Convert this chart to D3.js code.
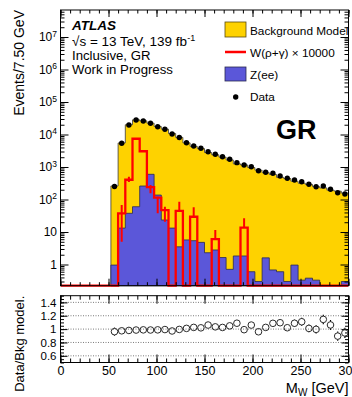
<!DOCTYPE html>
<html>
<head>
<meta charset="utf-8">
<script src="https://cdn.jsdelivr.net/npm/d3@7"></script>
<style>
  body { margin: 0; background: #fff; }
  text { font-family: "Liberation Sans", Arial, Helvetica, sans-serif; }
</style>
</head>
<body>
<div id="chart"></div>
<script>
// bin centres in GeV (bins are 7.5 GeV wide)
var massBins = [56.25, 63.75, 71.25, 78.75, 86.25, 93.75, 101.25, 108.75, 116.25, 123.75,
  131.25, 138.75, 146.25, 153.75, 161.25, 168.75, 176.25, 183.75, 191.25, 198.75,
  206.25, 213.75, 221.25, 228.75, 236.25, 243.75, 251.25, 258.75, 266.25, 273.75,
  281.25, 288.75, 296.25];
var dataCounts = [251, 5360, 19600, 27900, 26000, 22100, 17400, 14500, 10400, 8090,
  5590, 4430, 3760, 2960, 2460, 2070, 1730, 1360, 1150, 1020,
  769, 687, 640, 528, 449, 398, 353, 294, 248, 260,
  206, 162, 148];
var bkgModel = [261, 5500, 20000, 28300, 26300, 22400, 17600, 14600, 10700, 8130,
  5530, 4320, 3690, 2790, 2380, 2020, 1650, 1250, 1160, 962,
  801, 670, 589, 482, 440, 366, 318, 291, 249, 227,
  194, 181, 157];
var zeeBkg = [0.96, 13.2, 37.6, 60, 260, 596, 137, 23.4, 13.2, 3.5,
  5.7, 5.4, 4.8, 2.3, 2.8, 1.64, 0.71, 1.83, 1.83, 0.6,
  0.3, 1.6, 0.68, 0.6, 0.3, 0.96, 0.33, 0.38, 0.33, 0,
  0, 0, 0.3];
// W(rho+gamma) x 10000
var wSignal = [0, 37.6, 405, 7400, 3050, 240, 115, 47, 0, 45,
  0, 29.5, 0, 0, 6, 0, 0, 0, 13.6, 0,
  0, 0, 0, 0, 0, 0, 0, 0, 0, 0,
  0, 0, 0];
var wErrHi = [null, 67.6, 505, null, null, 279, 122, 60, null, 85,
  null, 57.5, null, null, 11.5, null, null, null, 26.3, null];
var wErrLo = [null, 5.0, 345, null, null, 155, 37.6, 20.7, null, 45,
  null, 29.5, null, null, 6, null, null, null, 13.6, null];

var xTicks = [0, 50, 100, 150, 200, 250, 300];
var logTicks = [1, 10, 1e2, 1e3, 1e4, 1e5, 1e6, 1e7];
var ratioTicks = [0.6, 0.8, 1, 1.2, 1.4];

var width = 352, height = 397;
var left = 60.5, right = 348.5, plotTop = 10, mainBottom = 285.7;
var ratioTop = 295.7, ratioBottom = 362.5;
var binHalf = 3.75, yMin = 0.2227, yMax = 6.78e7;
var fontFam = '"Liberation Sans", Arial, sans-serif';

var svg = d3.select('#chart').append('svg')
  .attr('width', width)
  .attr('height', height);

var x = d3.scaleLinear().domain([0, 300]).range([left, right]);
var y = d3.scaleLog().domain([yMin, yMax]).range([mainBottom, plotTop]);
var yr = d3.scaleLinear().domain([0.5, 1.5]).range([ratioBottom, ratioTop]);
var yc = v => y(Math.max(v, yMin));

var minorX = d3.range(0, 301, 10);
var minorLog = [];
logTicks.concat([0.1]).forEach(function(d) {
  for (var k = 2; k < 10; k++) {
    var v = d * k;
    if (v > yMin && v < yMax) minorLog.push(v);
  }
});
var minorRatio = d3.range(0.5, 1.5001, 0.05);

svg.append('clipPath').attr('id', 'mainclip')
  .append('rect').attr('x', left).attr('y', plotTop)
  .attr('width', right - left).attr('height', mainBottom - plotTop + 2);

function stepPoints(vals) {
  var pts = [];
  vals.forEach(function(v, i) {
    pts.push({m: massBins[i] - binHalf, v: v});
    pts.push({m: massBins[i] + binHalf, v: v});
  });
  return pts;
}

var area = d3.area()
  .x(d => x(d.m))
  .y0(mainBottom)
  .y1(d => yc(d.v));

var plot = svg.append('g').attr('clip-path', 'url(#mainclip)');

// stacked backgrounds
plot.append('path')
  .attr('d', area(stepPoints(bkgModel)))
  .attr('fill', '#fed200')
  .attr('stroke', '#3c3c3c')
  .attr('stroke-width', 0.8);

plot.append('path')
  .attr('d', area(stepPoints(zeeBkg)))
  .attr('fill', '#5b57d9')
  .attr('stroke', '#2a2a50')
  .attr('stroke-width', 0.8);

// W signal histogram
var wPts = [{m: 0, v: 0}].concat(stepPoints(wSignal)).concat([{m: 300, v: 0}]);
plot.append('path')
  .attr('d', d3.line().x(d => x(d.m)).y(d => yc(d.v))(wPts))
  .attr('fill', 'none')
  .attr('stroke', '#ff0000')
  .attr('stroke-width', 2.3);

plot.selectAll('.werr')
  .data(wErrHi.map((h, i) => ({i: i, hi: h, lo: wErrLo[i]})).filter(d => d.hi != null))
  .enter().append('line')
  .attr('x1', d => x(massBins[d.i])).attr('x2', d => x(massBins[d.i]))
  .attr('y1', d => yc(d.lo)).attr('y2', d => yc(d.hi))
  .attr('stroke', '#ff0000')
  .attr('stroke-width', 2);

// data
plot.selectAll('.dat')
  .data(dataCounts)
  .enter().append('circle')
  .attr('cx', (d, i) => x(massBins[i]))
  .attr('cy', d => y(d))
  .attr('r', 2.7)
  .attr('fill', '#000');

// ---- axes helpers
function noDomain(g) { g.select('.domain').remove(); }

function tickAxis(makeAxis, scale, tx, ty, major, minor, len) {
  svg.append('g').attr('transform', `translate(${tx},${ty})`)
    .call(makeAxis(scale).tickValues(major).tickSize(-len).tickFormat(''))
    .call(noDomain);
  svg.append('g').attr('transform', `translate(${tx},${ty})`)
    .call(makeAxis(scale).tickValues(minor).tickSize(-len / 2).tickFormat(''))
    .call(noDomain);
}

// main panel ticks
tickAxis(d3.axisTop, x, 0, plotTop, xTicks, minorX, 7);
tickAxis(d3.axisBottom, x, 0, mainBottom, xTicks, minorX, 7);
tickAxis(d3.axisRight, y, right, 0, logTicks, minorLog, 8);

svg.append('g').attr('transform', `translate(${left},0)`)
  .call(d3.axisLeft(y).tickValues(logTicks).tickSize(-8).tickPadding(3.5))
  .call(noDomain)
  .call(g => g.selectAll('text')
    .attr('font-size', 12)
    .attr('fill', '#000')
    .attr('font-family', fontFam)
    .each(function(d) {
      var t = d3.select(this).text('');
      var e = Math.round(Math.log10(d));
      if (e < 2) { t.text(d3.format('d')(d)); }
      else {
        t.append('tspan').text('10');
        t.append('tspan').attr('dy', '-0.55em').attr('font-size', 8.5).text(e);
      }
    }));
svg.append('g').attr('transform', `translate(${left},0)`)
  .call(d3.axisLeft(y).tickValues(minorLog).tickSize(-4).tickFormat(''))
  .call(noDomain);

// ratio panel
svg.append('g').selectAll('line')
  .data(ratioTicks).enter().append('line')
  .attr('x1', left).attr('x2', right)
  .attr('y1', d => yr(d)).attr('y2', d => yr(d))
  .attr('stroke', '#444')
  .attr('stroke-width', 0.7)
  .attr('stroke-dasharray', '1,1.5');

tickAxis(d3.axisTop, x, 0, ratioTop, xTicks, minorX, 8);
tickAxis(d3.axisRight, yr, right, 0, ratioTicks, minorRatio, 7);

svg.append('g').attr('transform', `translate(0,${ratioBottom})`)
  .call(d3.axisBottom(x).tickValues(xTicks).tickSize(-8).tickPadding(4))
  .call(noDomain)
  .call(g => g.selectAll('text').attr('font-size', 12.5)
    .attr('font-family', fontFam).attr('fill', '#000'));
svg.append('g').attr('transform', `translate(0,${ratioBottom})`)
  .call(d3.axisBottom(x).tickValues(minorX).tickSize(-4).tickFormat(''))
  .call(noDomain);

svg.append('g').attr('transform', `translate(${left},0)`)
  .call(d3.axisLeft(yr).tickValues(ratioTicks).tickSize(-7).tickPadding(4).tickFormat(d3.format('~g')))
  .call(noDomain)
  .call(g => g.selectAll('text').attr('font-size', 11.5)
    .attr('font-family', fontFam).attr('fill', '#000'));
svg.append('g').attr('transform', `translate(${left},0)`)
  .call(d3.axisLeft(yr).tickValues(minorRatio).tickSize(-3.5).tickFormat(''))
  .call(noDomain);

// ratio points
var ratioData = dataCounts.map((d, i) => ({
  m: massBins[i], r: d / bkgModel[i], e: Math.sqrt(d) / bkgModel[i]
}));
var rg = svg.append('g');
var mr = 3.3;
ratioData.forEach(function(d) {
  var cx = x(d.m), cy = yr(d.r);
  var yTop = yr(d.r + d.e), yBot = yr(d.r - d.e);
  if (cy - yTop > mr) {
    rg.append('line').attr('x1', cx).attr('x2', cx).attr('y1', yTop).attr('y2', cy - mr)
      .attr('stroke', '#000').attr('stroke-width', 1.2);
    rg.append('line').attr('x1', cx).attr('x2', cx).attr('y1', cy + mr).attr('y2', yBot)
      .attr('stroke', '#000').attr('stroke-width', 1.2);
  }
});
rg.selectAll('circle').data(ratioData).enter().append('circle')
  .attr('cx', d => x(d.m)).attr('cy', d => yr(d.r))
  .attr('r', mr)
  .attr('fill', 'none')
  .attr('stroke', '#2a2a2a')
  .attr('stroke-width', 1);

// frames
[[plotTop, mainBottom], [ratioTop, ratioBottom]].forEach(function(f) {
  svg.append('rect')
    .attr('x', left).attr('y', f[0])
    .attr('width', right - left).attr('height', f[1] - f[0])
    .attr('fill', 'none').attr('stroke', '#000').attr('stroke-width', 1);
});

// axis titles
svg.append('text')
  .attr('transform', 'translate(24,10) rotate(-90)')
  .attr('text-anchor', 'end')
  .attr('font-size', 14)
  .text('Events/7.50 GeV');
svg.append('text')
  .attr('transform', `translate(24,${ratioTop}) rotate(-90)`)
  .attr('text-anchor', 'end')
  .attr('font-size', 13)
  .text('Data/Bkg model.');
var xt = svg.append('text')
  .attr('x', right).attr('y', 392.5)
  .attr('text-anchor', 'end')
  .attr('font-size', 14.5);
xt.append('tspan').text('M');
xt.append('tspan').attr('font-size', 10).attr('dy', 3).text('W');
xt.append('tspan').attr('dy', -3).text(' [GeV]');

// ATLAS label
svg.append('text').attr('x', 72).attr('y', 29.5)
  .attr('font-size', 13.5).attr('font-weight', 'bold').attr('font-style', 'italic')
  .text('ATLAS');
var lum = svg.append('text').attr('x', 72).attr('y', 46).attr('font-size', 13.5);
lum.append('tspan').text('\u221As = 13 TeV, 139 fb');
lum.append('tspan').attr('font-size', 9).attr('dy', -5).text('-1');
svg.append('text').attr('x', 72).attr('y', 59.5).attr('font-size', 13.2).text('Inclusive, GR');
svg.append('text').attr('x', 72).attr('y', 74).attr('font-size', 13.2).text('Work in Progress');

svg.append('text').attr('x', 276).attr('y', 138.5)
  .attr('font-size', 27).attr('font-weight', 'bold')
  .text('GR');

// legend
var lg = svg.append('g');
lg.append('rect').attr('x', 225).attr('y', 22).attr('width', 21).attr('height', 15)
  .attr('fill', '#fed200').attr('stroke', '#5a4a10').attr('stroke-width', 0.8);
lg.append('text').attr('x', 250).attr('y', 34.5).attr('font-size', 11.8).text('Background Model');
lg.append('line').attr('x1', 225).attr('x2', 246).attr('y1', 52).attr('y2', 52)
  .attr('stroke', '#ff0000').attr('stroke-width', 2.5);
lg.append('text').attr('x', 250).attr('y', 56.5).attr('font-size', 11.8).text('W(\u03C1+\u03B3) \u00D7 10000');
lg.append('rect').attr('x', 225).attr('y', 67).attr('width', 21).attr('height', 14)
  .attr('fill', '#5b57d9').attr('stroke', '#2a2a50').attr('stroke-width', 0.8);
lg.append('text').attr('x', 250).attr('y', 78.5).attr('font-size', 11.8).text('Z(ee)');
lg.append('circle').attr('cx', 235.7).attr('cy', 97).attr('r', 2.7).attr('fill', '#000');
lg.append('text').attr('x', 250).attr('y', 101).attr('font-size', 11.8).text('Data');
</script>
</body>
</html>
